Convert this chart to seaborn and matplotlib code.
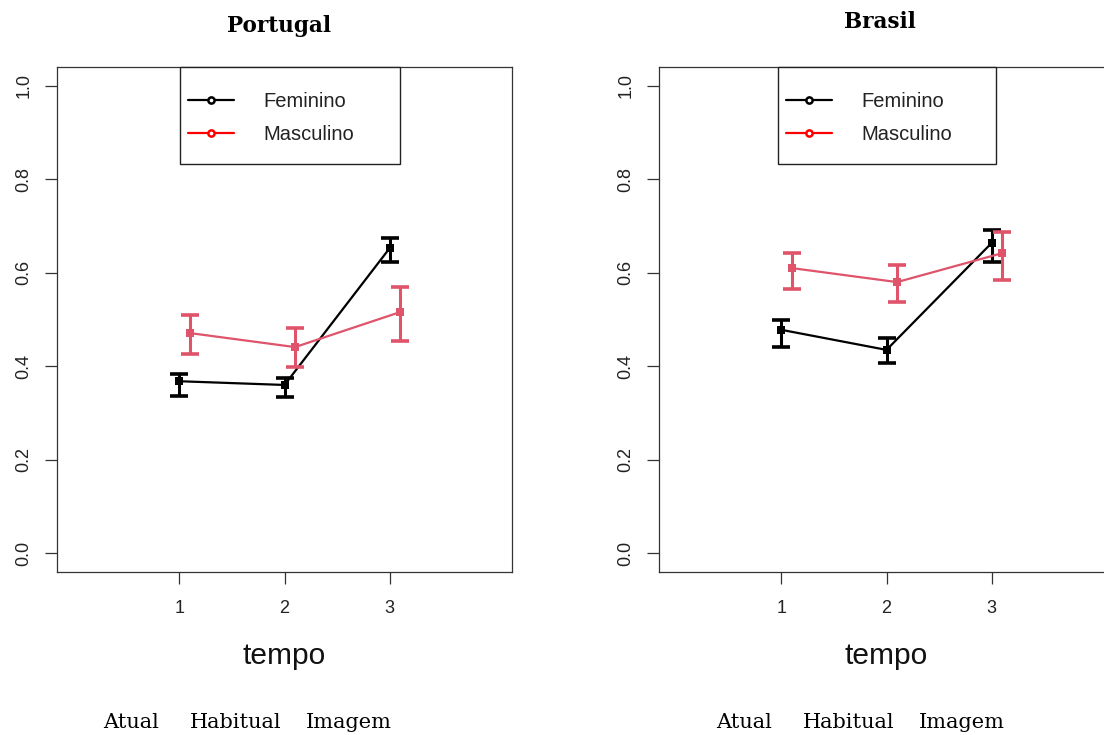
import numpy as np
import pandas as pd
import matplotlib
matplotlib.use("Agg")
import matplotlib.pyplot as plt
import seaborn as sns
from matplotlib.lines import Line2D
from matplotlib.patches import Rectangle

# Mean score by time point, with interval bounds, per sex and country
tempo = [1, 2, 3]
tempo_labels = ["1", "2", "3"]
series_names = ["Feminino", "Masculino"]
countries = ["Portugal", "Brasil"]
time_names = ["Atual", "Habitual", "Imagem"]

pt_fem_mean = [0.368, 0.360, 0.653]
pt_fem_lo = [0.336, 0.334, 0.623]
pt_fem_hi = [0.383, 0.375, 0.675]
pt_mas_mean = [0.471, 0.441, 0.516]
pt_mas_lo = [0.426, 0.398, 0.454]
pt_mas_hi = [0.510, 0.482, 0.570]

br_fem_mean = [0.478, 0.435, 0.664]
br_fem_lo = [0.441, 0.407, 0.623]
br_fem_hi = [0.499, 0.460, 0.692]
br_mas_mean = [0.610, 0.580, 0.642]
br_mas_lo = [0.565, 0.537, 0.585]
br_mas_hi = [0.642, 0.617, 0.687]

yticks = [0.0, 0.2, 0.4, 0.6, 0.8, 1.0]
ytick_labels = ["0.0", "0.2", "0.4", "0.6", "0.8", "1.0"]

sns.set_style("ticks")
plt.rcParams["font.family"] = ["Liberation Sans", "DejaVu Sans"]

line_colors = {"Feminino": "black", "Masculino": "#DF536B"}
legend_colors = {"Feminino": "black", "Masculino": "#FF0000"}
x_offset = {"Feminino": 0.0, "Masculino": 0.1}

panels = {
    "Portugal": {
        "Feminino": (pt_fem_mean, pt_fem_lo, pt_fem_hi),
        "Masculino": (pt_mas_mean, pt_mas_lo, pt_mas_hi),
    },
    "Brasil": {
        "Feminino": (br_fem_mean, br_fem_lo, br_fem_hi),
        "Masculino": (br_mas_mean, br_mas_lo, br_mas_hi),
    },
}

W, H = 1104, 735
fig = plt.figure(figsize=(W / 100, H / 100), dpi=100)

ax_left_px = {"Portugal": 57, "Brasil": 659}
ax_w_px, ax_top_px, ax_bot_px = 455, 67, 572
ax_h_px = ax_bot_px - ax_top_px
legend_px = {"Portugal": (180, 400), "Brasil": (778, 996)}
legend_bottom_px = 164
legend_handle_px = {"Portugal": 188, "Brasil": 786}
title_pos = {"Portugal": (279, 26), "Brasil": (880, 22)}
words_start = {"Portugal": 0, "Brasil": 613}
word_centers = [131, 236, 349]

for country in countries:
    lx = ax_left_px[country]
    ax = fig.add_axes([lx / W, (H - ax_bot_px) / H, ax_w_px / W,
                       ax_h_px / H])
    for name in series_names:
        mean, lo, hi = panels[country][name]
        df = pd.DataFrame({"tempo": np.array(tempo) + x_offset[name],
                           "valor": mean})
        sns.lineplot(data=df, x="tempo", y="valor", ax=ax,
                     color=line_colors[name], lw=1.6, marker="s",
                     markersize=5.5, markeredgewidth=0,
                     estimator=None, sort=False)
        m = np.array(mean)
        ax.errorbar(df["tempo"], m, yerr=[m - np.array(lo), np.array(hi) - m],
                    fmt="none", ecolor=line_colors[name], elinewidth=2.2,
                    capsize=6.5, capthick=2.6)

    ax.set_xlim(-0.16, 4.16)
    ax.set_ylim(-0.04, 1.04)
    ax.set_xticks(tempo)
    ax.set_xticklabels(tempo_labels)
    ax.set_yticks(yticks)
    ax.set_yticklabels(ytick_labels, rotation=90, va="center")
    ax.tick_params(axis="both", direction="out", length=8.5, width=0.9,
                   color="#333333", labelsize=13, labelcolor="#222222")
    ax.tick_params(axis="y", pad=9)
    ax.tick_params(axis="x", pad=12)
    ax.set_ylabel("")
    ax.set_xlabel("tempo", fontsize=21.5, labelpad=18, color="#111111")
    for sp in ax.spines.values():
        sp.set_visible(True)
        sp.set_color("#333333")
        sp.set_linewidth(0.9)

    # legend box
    l0, l1 = legend_px[country]
    box_y0 = (ax_bot_px - legend_bottom_px) / ax_h_px
    ax.add_patch(Rectangle(((l0 - lx) / ax_w_px, box_y0),
                           (l1 - l0) / ax_w_px, 1.0 - box_y0,
                           transform=ax.transAxes, facecolor="white",
                           edgecolor="#222222", lw=1.0, zorder=5,
                           clip_on=False))
    handles = [Line2D([0], [0], color=legend_colors[n], lw=1.6, marker="o",
                      markersize=4.5, markerfacecolor="white",
                      markeredgewidth=1.8, markeredgecolor=legend_colors[n])
               for n in series_names]
    entries_center = (ax_bot_px - 118) / ax_h_px
    leg = ax.legend(handles, series_names, loc="center left",
                    bbox_to_anchor=((legend_handle_px[country] - lx) / ax_w_px,
                                    entries_center),
                    borderaxespad=0, borderpad=0, frameon=False,
                    fontsize=14.5, handlelength=2.3, handletextpad=1.45,
                    labelspacing=0.72)
    leg.set_zorder(6)
    for t in leg.get_texts():
        t.set_color("#222222")

    tx, ty = title_pos[country]
    fig.text(tx / W, 1 - ty / H, country, ha="center", va="center",
             fontsize=15.5, fontweight="bold", family="DejaVu Serif",
             color="black")
    for word, cx in zip(time_names, word_centers):
        fig.text((cx + words_start[country]) / W, 1 - 722 / H, word,
                 ha="center", va="center", fontsize=15,
                 family="DejaVu Serif", color="black")

fig.savefig("out.png", dpi=100)
